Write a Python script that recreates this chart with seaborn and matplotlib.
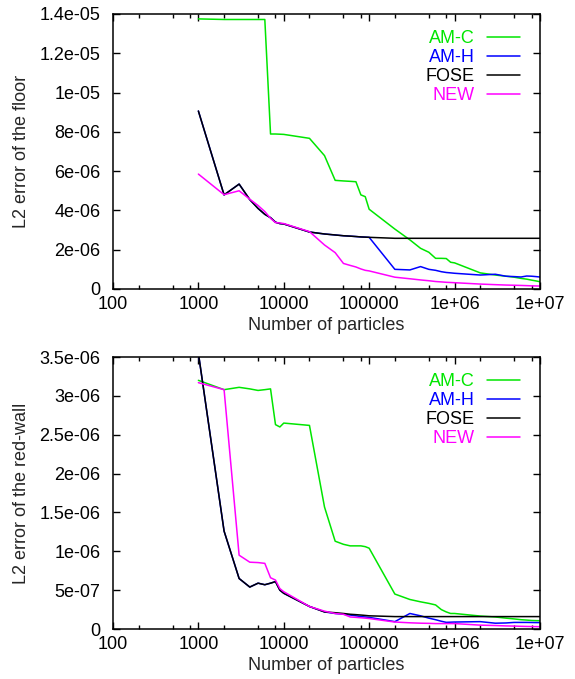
##L2 error vs number of particles, floor and red-wall (gnuplot look)

import numpy as np
import pandas as pd
import seaborn as sns
import matplotlib.pyplot as plt
from matplotlib.ticker import FixedLocator, FuncFormatter

# particle counts shared by all series
n_particles = [1e3, 2e3, 3e3, 4e3, 5e3, 6e3, 7e3, 8e3, 9e3,
               1e4, 2e4, 3e4, 4e4, 5e4, 6e4, 7e4, 8e4, 9e4,
               1e5, 2e5, 3e5, 4e5, 5e5, 6e5, 7e5, 8e5, 9e5,
               1e6, 2e6, 3e6, 4e6, 5e6, 6e6, 7e6, 8e6, 9e6, 1e7]

methods = ['AM-C', 'AM-H', 'FOSE', 'NEW']
colors = ['#00e600', '#0000ff', '#000000', '#ff00ff']

# floor errors (units of 1e-6)
floor_amc = [13.75, 13.72, 13.72, 13.72, 13.72, 13.72, 7.89, 7.89, 7.88,
             7.87, 7.67, 6.79, 5.53, 5.50, 5.48, 5.46, 4.79, 4.70,
             4.06, 3.05, 2.50, 2.07, 1.87, 1.56, 1.56, 1.55, 1.36,
             1.33, 0.82, 0.71, 0.65, 0.60, 0.54, 0.50, 0.45, 0.41, 0.37]
floor_amh = [9.06, 4.79, 5.34, 4.55, 4.10, 3.80, 3.63, 3.40, 3.33,
             3.31, 2.90, 2.80, 2.75, 2.71, 2.69, 2.67, 2.65, 2.64,
             2.63, 1.00, 0.97, 1.14, 1.00, 0.95, 0.88, 0.84, 0.82,
             0.80, 0.71, 0.75, 0.65, 0.63, 0.61, 0.66, 0.65, 0.63, 0.61]
floor_fose = [9.06, 4.79, 5.34, 4.55, 4.10, 3.80, 3.63, 3.40, 3.33,
              3.31, 2.90, 2.80, 2.75, 2.71, 2.69, 2.67, 2.65, 2.64,
              2.63, 2.58, 2.58, 2.58, 2.58, 2.58, 2.58, 2.58, 2.58,
              2.58, 2.58, 2.58, 2.58, 2.58, 2.58, 2.58, 2.58, 2.58, 2.58]
floor_new = [5.85, 4.80, 5.00, 4.57, 4.25, 3.94, 3.60, 3.38, 3.36,
             3.33, 2.92, 2.24, 1.85, 1.30, 1.20, 1.12, 1.02, 0.95,
             0.92, 0.60, 0.52, 0.46, 0.42, 0.38, 0.36, 0.34, 0.33,
             0.32, 0.25, 0.22, 0.20, 0.19, 0.18, 0.17, 0.16, 0.155, 0.15]

# red-wall errors (units of 1e-6)
wall_amc = [3.20, 3.08, 3.11, 3.09, 3.07, 3.08, 3.09, 2.63, 2.60,
            2.65, 2.62, 1.57, 1.13, 1.09, 1.07, 1.07, 1.07, 1.06,
            1.04, 0.45, 0.38, 0.35, 0.33, 0.31, 0.25, 0.22, 0.20,
            0.20, 0.167, 0.155, 0.14, 0.13, 0.12, 0.115, 0.11, 0.108, 0.107]
wall_amh = [3.55, 1.26, 0.65, 0.54, 0.59, 0.57, 0.59, 0.61, 0.50,
            0.46, 0.29, 0.22, 0.20, 0.19, 0.18, 0.17, 0.16, 0.155,
            0.15, 0.095, 0.20, 0.17, 0.14, 0.12, 0.10, 0.086, 0.088,
            0.09, 0.095, 0.075, 0.078, 0.085, 0.085, 0.085, 0.084, 0.083, 0.083]
wall_fose = [3.55, 1.26, 0.65, 0.54, 0.59, 0.57, 0.59, 0.61, 0.50,
             0.46, 0.29, 0.22, 0.21, 0.20, 0.19, 0.185, 0.18, 0.175,
             0.17, 0.16, 0.16, 0.16, 0.16, 0.16, 0.16, 0.16, 0.16,
             0.16, 0.16, 0.16, 0.16, 0.16, 0.16, 0.16, 0.16, 0.16, 0.16]
wall_new = [3.17, 3.08, 0.95, 0.86, 0.855, 0.845, 0.66, 0.63, 0.52,
            0.48, 0.29, 0.23, 0.20, 0.19, 0.155, 0.15, 0.145, 0.14,
            0.135, 0.09, 0.08, 0.075, 0.073, 0.07, 0.07, 0.07, 0.07,
            0.07, 0.05, 0.045, 0.04, 0.038, 0.035, 0.033, 0.032, 0.031, 0.03]

x_major = [1e2, 1e3, 1e4, 1e5, 1e6, 1e7]
x_minor = [m * d for d in [1e2, 1e3, 1e4, 1e5, 1e6] for m in (2, 5, 8)]


def long_df(series):
    rows = []
    for name, vals in zip(methods, series):
        for n, v in zip(n_particles, vals):
            rows.append({'N': n, 'err': v * 1e-6, 'method': name})
    return pd.DataFrame(rows)


sns.set_style('ticks')
plt.rcParams['font.family'] = ['Liberation Sans', 'DejaVu Sans']
FS = 13

fig = plt.figure(figsize=(5.75, 6.79), dpi=100)
ax_top = fig.add_axes([0.1965, 0.5744, 0.7425, 0.405])
ax_bot = fig.add_axes([0.1965, 0.0736, 0.7425, 0.4006])

panels = [
    (ax_top, [floor_amc, floor_amh, floor_fose, floor_new], 'L2 error of the floor', 1.4e-5, 2e-6),
    (ax_bot, [wall_amc, wall_amh, wall_fose, wall_new], 'L2 error of the red-wall', 3.5e-6, 5e-7),
]

for ax, series, ylab, ymax, ystep in panels:
    df = long_df(series)
    sns.lineplot(data=df, x='N', y='err', hue='method', hue_order=methods,
                 palette=colors, linewidth=1.1, ax=ax, legend=True,
                 estimator=None, sort=False)
    ax.set_xscale('log')
    ax.set_xlim(100, 1e7)
    ax.set_ylim(0, ymax)

    ax.xaxis.set_major_locator(FixedLocator(x_major))
    ax.xaxis.set_minor_locator(FixedLocator(x_minor))
    ax.xaxis.set_major_formatter(FuncFormatter(lambda v, p: f'{v:g}'))
    ax.xaxis.set_minor_formatter(FuncFormatter(lambda v, p: ''))
    yt = np.round(np.arange(0, ymax + ystep / 2, ystep), 10)
    ax.yaxis.set_major_locator(FixedLocator(yt))
    ax.yaxis.set_major_formatter(FuncFormatter(lambda v, p: f'{v:g}'))

    ax.tick_params(which='both', direction='in', top=True, right=True,
                   labelsize=FS, width=1.0, colors='black')
    ax.tick_params(which='major', length=5)
    ax.tick_params(which='minor', length=2.7)
    ax.tick_params(axis='y', pad=9)
    ax.tick_params(axis='x', pad=5)
    for s in ax.spines.values():
        s.set_visible(True)
        s.set_linewidth(1.1)
        s.set_color('black')

    ax.set_xlabel('Number of particles', fontsize=FS, labelpad=3)
    ax.set_ylabel(ylab, fontsize=FS, labelpad=7)

    handles = ax.get_legend().legend_handles
    leg = ax.legend(handles, methods, loc='upper right',
                    bbox_to_anchor=(1 - 20 / 427, 1 - 16 / 275),
                    frameon=False, markerfirst=False, borderaxespad=0,
                    handlelength=1.85, handletextpad=0.67, labelspacing=0.12,
                    fontsize=FS, borderpad=0)
    for txt, c in zip(leg.get_texts(), colors):
        txt.set_color(c)

fig.savefig('out.png', dpi=100)
